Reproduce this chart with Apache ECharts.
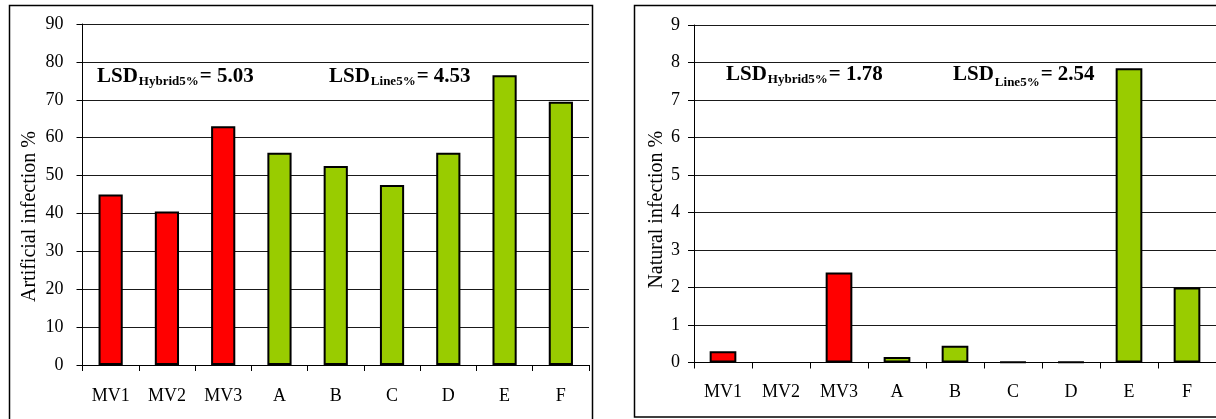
<!DOCTYPE html>
<html>
<head>
<meta charset="utf-8">
<script src="https://cdn.jsdelivr.net/npm/echarts@6/dist/echarts.min.js"></script>
<style>
html,body{margin:0;padding:0;background:#fff;}
#c{width:1216px;height:419px;}
</style>
</head>
<body>
<div id="c"></div>
<script>
const categories = ['MV1', 'MV2', 'MV3', 'A', 'B', 'C', 'D', 'E', 'F'];
const artificialValues = [45, 40.5, 63, 56, 52.5, 47.5, 56, 76.5, 69.5];
const naturalValues = [0.3, null, 2.4, 0.15, 0.45, 0.02, 0.02, 7.85, 2.0];
const hybridCategories = ['MV1', 'MV2', 'MV3'];
const artificialAxisName = 'Artificial infection %';
const naturalAxisName = 'Natural infection %';
const lsdArtificial = { hybrid: '5.03', line: '4.53' };
const lsdNatural = { hybrid: '1.78', line: '2.54' };

const FONT = '"Liberation Serif", "Times New Roman", serif';
const RED = '#FF0000';
const GREEN = '#99CC00';

function barColor(p) {
  return hybridCategories.indexOf(categories[p.dataIndex]) >= 0 ? RED : GREEN;
}

function catAxis(gridIndex, margin) {
  return {
    type: 'category', gridIndex: gridIndex, data: categories, boundaryGap: true,
    axisLine: { show: true, lineStyle: { color: '#000', width: 1 } },
    axisTick: { show: true, alignWithLabel: false, length: 6, lineStyle: { color: '#000' } },
    axisLabel: { color: '#000', fontFamily: FONT, fontSize: 18, margin: margin, interval: 0 },
    splitLine: { show: false }
  };
}
function valAxis(gridIndex, max, name, nameGap, pad, labelMargin) {
  return {
    type: 'value', gridIndex: gridIndex, min: 0, max: max, interval: max / 9,
    name: name, nameLocation: 'middle', nameGap: nameGap, nameRotate: 90,
    nameTextStyle: { color: '#000', fontFamily: FONT, fontSize: 20, padding: pad },
    axisLine: { show: true, lineStyle: { color: '#000', width: 1 } },
    axisTick: { show: true, length: 6, lineStyle: { color: '#000' } },
    axisLabel: { color: '#000', fontFamily: FONT, fontSize: 18, margin: labelMargin },
    splitLine: { show: true, lineStyle: { color: '#1a1a1a', width: 1 } }
  };
}
function lsdRich(subPad) {
  return {
    b: { fontFamily: FONT, fontSize: 21, fontWeight: 'bold', color: '#000' },
    s: { fontFamily: FONT, fontSize: 13, fontWeight: 'bold', color: '#000', padding: [subPad, 1, 0, 1] }
  };
}

const chart = echarts.init(document.getElementById('c'), null, { renderer: 'canvas' });
chart.setOption({
  animation: false,
  backgroundColor: '#fff',
  grid: [
    { left: 82.5, right: 627, top: 24, bottom: 54, containLabel: false },
    { left: 694, right: 0, top: 25, bottom: 56.5, containLabel: false }
  ],
  xAxis: [catAxis(0, 22), catAxis(1, 21)],
  yAxis: [
    valAxis(0, 90, artificialAxisName, 43, [0, 44, 0, 0], 19),
    valAxis(1, 9, naturalAxisName, 26, [0, 32, 0, 0], 14)
  ],
  series: [
    {
      type: 'bar', xAxisIndex: 0, yAxisIndex: 0, data: artificialValues, barWidth: '43%',
      itemStyle: { color: barColor, borderColor: '#000', borderWidth: 2 }
    },
    {
      type: 'bar', xAxisIndex: 1, yAxisIndex: 1, data: naturalValues, barWidth: '46%',
      itemStyle: { color: barColor, borderColor: '#000', borderWidth: 2 }
    }
  ],
  graphic: [
    { type: 'rect', shape: { x: 9.5, y: 5.5, width: 583, height: 430 }, style: { fill: 'none', stroke: '#000', lineWidth: 1.5 }, silent: true, z: 0 },
    { type: 'rect', shape: { x: 634.5, y: 5.5, width: 600, height: 411.5 }, style: { fill: 'none', stroke: '#000', lineWidth: 1.5 }, silent: true, z: 0 },
    { type: 'text', left: 97, top: 66, z: 10, style: { text: '{b|LSD}{s|Hybrid5%}{b|= ' + lsdArtificial.hybrid + '}', rich: lsdRich(11) } },
    { type: 'text', left: 329, top: 66, z: 10, style: { text: '{b|LSD}{s|Line5%}{b|= ' + lsdArtificial.line + '}', rich: lsdRich(11) } },
    { type: 'text', left: 726, top: 64, z: 10, style: { text: '{b|LSD}{s|Hybrid5%}{b|= ' + lsdNatural.hybrid + '}', rich: lsdRich(11) } },
    { type: 'text', left: 953, top: 64, z: 10, style: { text: '{b|LSD}{s|Line5%}{b|= ' + lsdNatural.line + '}', rich: lsdRich(16) } }
  ]
});
</script>
</body>
</html>
